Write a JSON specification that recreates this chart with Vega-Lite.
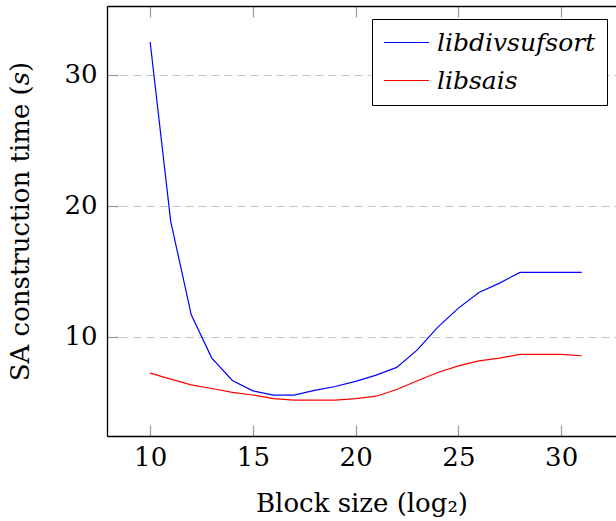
{
  "$schema": "https://vega.github.io/schema/vega-lite/v6.json",
  "width": 509,
  "height": 430,
  "autosize": {"type": "none"},
  "padding": {"left": 107, "top": 6, "right": 0, "bottom": 85},
  "background": "white",
  "config": {
    "view": {"stroke": null},
    "font": "DejaVu Serif, serif",
    "axis": {
      "labelFont": "DejaVu Serif, serif",
      "titleFont": "DejaVu Serif, serif",
      "labelFontSize": 26,
      "titleFontSize": 26,
      "titleFontWeight": "normal",
      "labelColor": "black",
      "titleColor": "black",
      "domainColor": "black",
      "domainWidth": 1.3,
      "tickColor": "#9a9a9a",
      "tickWidth": 1.2,
      "tickSize": -11
    }
  },
  "data": {
    "values": [
      {"block": 10, "time": 32.5, "impl": "libdivsufsort"},
      {"block": 11, "time": 18.8, "impl": "libdivsufsort"},
      {"block": 12, "time": 11.66, "impl": "libdivsufsort"},
      {"block": 13, "time": 8.35, "impl": "libdivsufsort"},
      {"block": 14, "time": 6.64, "impl": "libdivsufsort"},
      {"block": 15, "time": 5.85, "impl": "libdivsufsort"},
      {"block": 16, "time": 5.53, "impl": "libdivsufsort"},
      {"block": 17, "time": 5.53, "impl": "libdivsufsort"},
      {"block": 18, "time": 5.88, "impl": "libdivsufsort"},
      {"block": 19, "time": 6.18, "impl": "libdivsufsort"},
      {"block": 20, "time": 6.57, "impl": "libdivsufsort"},
      {"block": 21, "time": 7.05, "impl": "libdivsufsort"},
      {"block": 22, "time": 7.64, "impl": "libdivsufsort"},
      {"block": 23, "time": 8.98, "impl": "libdivsufsort"},
      {"block": 24, "time": 10.72, "impl": "libdivsufsort"},
      {"block": 25, "time": 12.17, "impl": "libdivsufsort"},
      {"block": 26, "time": 13.36, "impl": "libdivsufsort"},
      {"block": 27, "time": 14.08, "impl": "libdivsufsort"},
      {"block": 28, "time": 14.9, "impl": "libdivsufsort"},
      {"block": 29, "time": 14.9, "impl": "libdivsufsort"},
      {"block": 30, "time": 14.9, "impl": "libdivsufsort"},
      {"block": 31, "time": 14.9, "impl": "libdivsufsort"},
      {"block": 10, "time": 7.2, "impl": "libsais"},
      {"block": 11, "time": 6.75, "impl": "libsais"},
      {"block": 12, "time": 6.31, "impl": "libsais"},
      {"block": 13, "time": 6.03, "impl": "libsais"},
      {"block": 14, "time": 5.73, "impl": "libsais"},
      {"block": 15, "time": 5.53, "impl": "libsais"},
      {"block": 16, "time": 5.25, "impl": "libsais"},
      {"block": 17, "time": 5.14, "impl": "libsais"},
      {"block": 18, "time": 5.14, "impl": "libsais"},
      {"block": 19, "time": 5.14, "impl": "libsais"},
      {"block": 20, "time": 5.25, "impl": "libsais"},
      {"block": 21, "time": 5.44, "impl": "libsais"},
      {"block": 22, "time": 5.95, "impl": "libsais"},
      {"block": 23, "time": 6.62, "impl": "libsais"},
      {"block": 24, "time": 7.25, "impl": "libsais"},
      {"block": 25, "time": 7.76, "impl": "libsais"},
      {"block": 26, "time": 8.14, "impl": "libsais"},
      {"block": 27, "time": 8.35, "impl": "libsais"},
      {"block": 28, "time": 8.64, "impl": "libsais"},
      {"block": 29, "time": 8.64, "impl": "libsais"},
      {"block": 30, "time": 8.64, "impl": "libsais"},
      {"block": 31, "time": 8.53, "impl": "libsais"}
    ]
  },
  "layer": [
    {
      "mark": {"type": "line", "strokeWidth": 1.2, "clip": true},
      "encoding": {
        "x": {
          "field": "block",
          "type": "quantitative",
          "scale": {"domain": [7.9, 32.67], "nice": false, "zero": false},
          "axis": {
            "orient": "bottom",
            "values": [10, 15, 20, 25, 30],
            "grid": false,
            "labelPadding": 19,
            "title": "Block size (log₂)",
            "titlePadding": 20
          }
        },
        "y": {
          "field": "time",
          "type": "quantitative",
          "scale": {"domain": [2.4, 35.25], "nice": false, "zero": false},
          "axis": {
            "values": [10, 20, 30],
            "grid": true,
            "gridColor": "#c4c4c4",
            "gridDash": [8, 5],
            "gridWidth": 1.1,
            "labelPadding": 21,
            "title": "SA construction time (𝑠)",
            "titlePadding": 30
          }
        },
        "color": {
          "field": "impl",
          "type": "nominal",
          "scale": {"domain": ["libdivsufsort", "libsais"], "range": ["#0000ff", "#ff0000"]},
          "legend": {
            "title": null,
            "orient": "none",
            "legendX": 265,
            "legendY": 13,
            "padding": 11,
            "rowPadding": 12,
            "strokeColor": "black",
            "fillColor": "white",
            "symbolType": "M-2,0H2",
            "symbolSize": 506,
            "symbolOffset": 11,
            "symbolStrokeWidth": 1.2,
            "labelFont": "DejaVu Serif, serif",
            "labelFontStyle": "italic",
            "labelFontSize": 25,
            "labelColor": "black",
            "labelOffset": 18,
            "labelLimit": 400
          }
        }
      }
    },
    {
      "mark": {"type": "point", "opacity": 0},
      "encoding": {
        "x": {
          "field": "block",
          "type": "quantitative",
          "axis": {
            "orient": "top",
            "values": [10, 15, 20, 25, 30],
            "labels": false,
            "grid": false,
            "title": null
          }
        }
      }
    }
  ],
  "resolve": {"axis": {"x": "independent"}}
}
